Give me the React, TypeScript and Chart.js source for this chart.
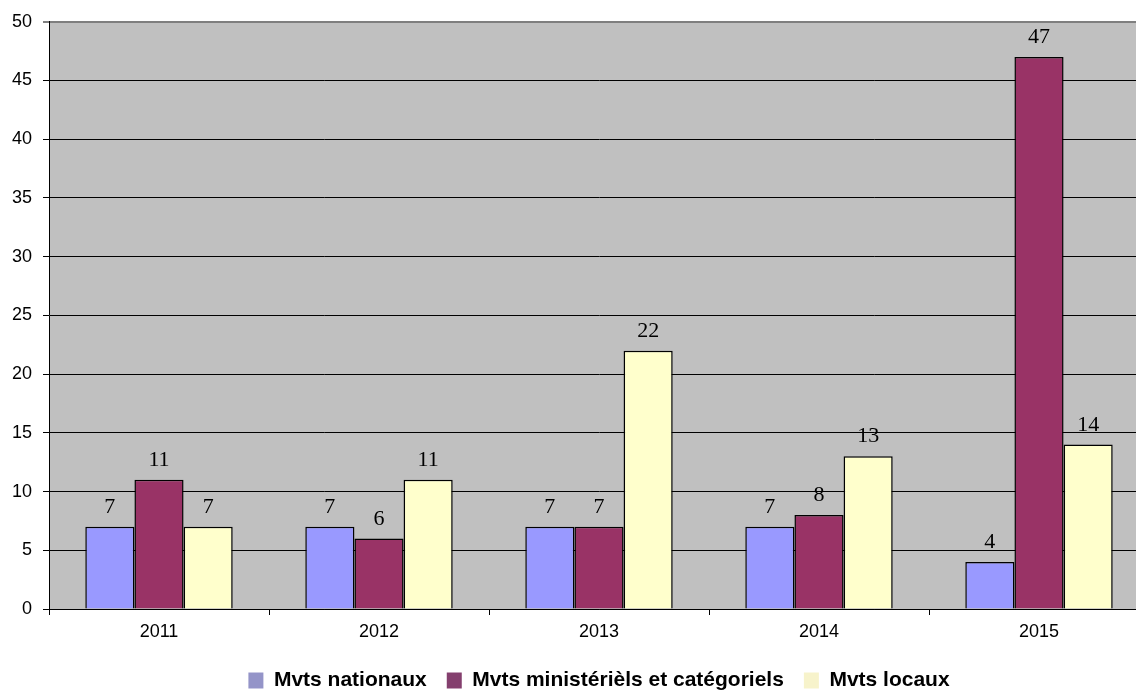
import React, { useEffect, useRef } from "react";
import { Chart, registerables } from "chart.js";

Chart.register(...registerables);

const categories = ["2011", "2012", "2013", "2014", "2015"];
const nationaux = [7, 7, 7, 7, 4];
const ministeriels = [11, 6, 7, 8, 47];
const locaux = [7, 11, 22, 13, 14];
const seriesNames = ["Mvts nationaux", "Mvts ministérièls et catégoriels", "Mvts locaux"];
const barColors = ["#9999FF", "#993366", "#FFFFCC"];
const legendColors = ["#9494C8", "#843F6E", "#F7F3CB"];

const plotBg = {
  id: "plotBg",
  beforeDraw(chart: any) {
    const { ctx, chartArea } = chart;
    ctx.save();
    ctx.fillStyle = "#C0C0C0";
    ctx.fillRect(chartArea.left, chartArea.top, chartArea.right - chartArea.left, chartArea.bottom - chartArea.top);
    ctx.restore();
  },
};

const valueLabels = {
  id: "valueLabels",
  afterDatasetsDraw(chart: any) {
    const { ctx } = chart;
    ctx.save();
    ctx.font = "22px 'Liberation Serif', 'Times New Roman', serif";
    ctx.fillStyle = "#000";
    ctx.textAlign = "center";
    ctx.textBaseline = "alphabetic";
    chart.data.datasets.forEach((ds: any, i: number) => {
      const meta = chart.getDatasetMeta(i);
      meta.data.forEach((bar: any, j: number) => {
        ctx.fillText(String(ds.data[j]), bar.x, bar.y - 14);
      });
    });
    ctx.restore();
  },
};

export default function App() {
  const ref = useRef<HTMLCanvasElement>(null);
  useEffect(() => {
    document.body.style.overflow = "hidden";
    const chart = new Chart(ref.current!, {
      type: "bar",
      data: {
        labels: categories,
        datasets: [nationaux, ministeriels, locaux].map((d, i) => ({
          label: seriesNames[i],
          data: d,
          backgroundColor: barColors[i],
          borderColor: "#000",
          borderWidth: 1.5,
          categoryPercentage: 0.67,
          barPercentage: 1,
        })),
      },
      options: {
        responsive: false,
        animation: false,
        layout: { padding: { top: 21, left: 0, right: 1, bottom: 0 } },
        plugins: {
          tooltip: { enabled: false },
          legend: {
            position: "bottom",
            fullSize: false,
            labels: {
              boxWidth: 15,
              boxHeight: 16,
              padding: 20,
              color: "#000",
              font: { family: "'Liberation Sans', Arial, sans-serif", size: 21, weight: "bold" },
              generateLabels: (chart: any) =>
                chart.data.datasets.map((ds: any, i: number) => ({
                  text: ds.label,
                  fillStyle: legendColors[i],
                  strokeStyle: legendColors[i],
                  lineWidth: 0,
                  datasetIndex: i,
                  hidden: false,
                })),
            },
          },
        },
        scales: {
          x: {
            grid: {
              offset: true,
              drawOnChartArea: false,
              drawTicks: true,
              tickLength: 6,
              color: "#000",
            },
            border: { display: true, color: "#000", width: 1 },
            ticks: {
              color: "#000",
              padding: 6,
              font: { family: "'Liberation Sans', Arial, sans-serif", size: 18 },
            },
            afterFit: (s: any) => {
              s.height = 41;
            },
          },
          y: {
            min: 0,
            max: 50,
            ticks: {
              stepSize: 5,
              color: "#000",
              padding: 11,
              font: { family: "'Liberation Sans', Arial, sans-serif", size: 18 },
            },
            grid: {
              color: (c: any) => (c.tick && c.tick.value === 50 ? "#7F7F7F" : "#000"),
              lineWidth: (c: any) => (c.tick && c.tick.value === 50 ? 2 : 1),
              tickLength: 6,
            },
            border: { display: true, color: "#000", width: 1 },
            afterFit: (s: any) => {
              s.width = 49;
            },
          },
        },
      },
      plugins: [plotBg, valueLabels],
    });
    return () => chart.destroy();
  }, []);
  return (
    <div style={{ position: "fixed", left: 0, top: 0, width: 1150, height: 701 }}>
      <canvas ref={ref} width={1150} height={701} />
    </div>
  );
}
